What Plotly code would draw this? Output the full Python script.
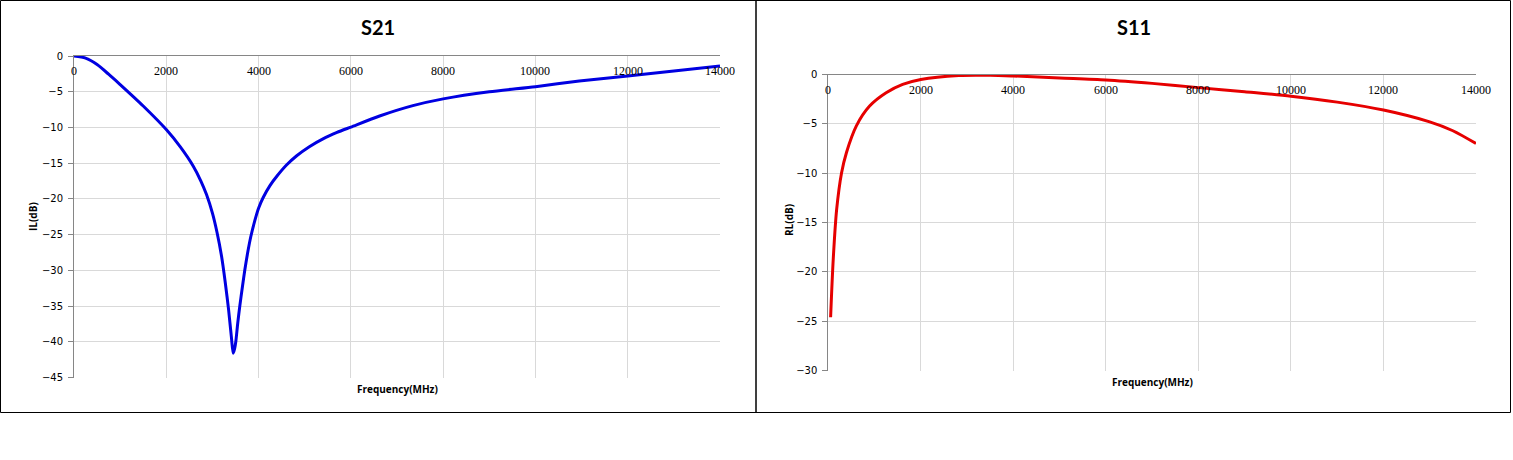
import plotly.graph_objects as go

W, H = 1513, 460

# ---- data ----
s21_freq = [0, 250, 500, 750, 1000, 1500, 2000, 2300, 2582, 2750, 2872, 3000, 3100, 3197,
            3280, 3350, 3413, 3450, 3480, 3506, 3550, 3593, 3650, 3701, 3770, 3831, 3920,
            4000, 4100, 4250, 4400, 4600, 4820, 5100, 5396, 5700, 6000, 6623, 7344,
            8000, 9000, 10000, 10950, 12000, 13000, 14000]
s21_il = [0, -0.3, -1.2, -2.55, -4.0, -7.0, -10.3, -12.7, -15.4, -17.5, -19.4, -22.0, -24.7,
          -28.0, -31.8, -35.5, -39.5, -41.6, -41.0, -40.0, -37.3, -35.0, -32.3, -30.0, -27.3,
          -25.3, -23.0, -21.3, -19.8, -18.1, -16.8, -15.3, -14.0, -12.7, -11.6, -10.7, -9.95,
          -8.4, -6.95, -6.0, -5.0, -4.3, -3.5, -2.8, -2.1, -1.4]

s11_freq = [50, 107, 180, 285, 393, 607, 893, 1250, 1607, 2000, 2821, 3500, 4000,
            5000, 6000, 7000, 8000, 9000, 10000, 11000, 12000, 13000, 13500, 14000]
s11_rl = [-24.6, -18.7, -13.7, -10.0, -7.9, -5.2, -3.2, -1.85, -1.0, -0.5, -0.1, -0.08,
          -0.15, -0.35, -0.55, -0.9, -1.33, -1.75, -2.2, -2.8, -3.6, -4.8, -5.7, -7.0]

x_ticks = [0, 2000, 4000, 6000, 8000, 10000, 12000, 14000]
x_tick_labels = ["0", "2000", "4000", "6000", "8000", "10000", "12000", "14000"]


def px(x):
    return x / W


def py(y):
    return 1 - y / H


fig = go.Figure()
fig.add_trace(go.Scatter(x=s21_freq, y=s21_il, mode="lines",
                         line=dict(color="rgb(0,0,225)", width=3, shape="spline", smoothing=0.7),
                         xaxis="x", yaxis="y", showlegend=False))
fig.add_trace(go.Scatter(x=s11_freq, y=s11_rl, mode="lines",
                         line=dict(color="rgb(230,0,0)", width=3, shape="spline", smoothing=0.8),
                         xaxis="x2", yaxis="y2", showlegend=False))

xcommon = dict(range=[0, 14000], tickvals=x_ticks, side="top", ticks="",
               showticklabels=False, automargin=False,
               showline=True, linecolor="#868686", linewidth=1,
               showgrid=True, gridcolor="#d9d9d9", gridwidth=1, zeroline=False,
               fixedrange=True)
ycommon = dict(dtick=5, ticks="outside", ticklen=5, tickcolor="#868686",
               automargin=False,
               showline=True, linecolor="#868686", linewidth=1,
               showgrid=True, gridcolor="#d9d9d9", gridwidth=1, zeroline=False,
               tickfont=dict(family="DejaVu Sans", size=10, color="#000"),
               ticklabelstandoff=3, fixedrange=True)

fig.update_layout(
    width=W, height=H, margin=dict(l=0, r=0, t=0, b=0, pad=0, autoexpand=False),
    paper_bgcolor="white", plot_bgcolor="white",
    xaxis=dict(domain=[px(74), px(720)], anchor="y", **xcommon),
    yaxis=dict(domain=[py(377.5), py(56)], anchor="x", range=[-45, 0], **ycommon),
    xaxis2=dict(domain=[px(828.3), px(1476)], anchor="y2", **xcommon),
    yaxis2=dict(domain=[py(370.5), py(74.5)], anchor="x2", range=[-30, 0], **ycommon),
)

# x tick labels sit just below the zero line, inside the plot
for xr, yr in [("x", "y"), ("x2", "y2")]:
    for v, t in zip(x_ticks, x_tick_labels):
        fig.add_annotation(xref=xr, yref=yr, x=v, y=0, text=t, showarrow=False,
                           xanchor="center", yanchor="middle", yshift=-15,
                           font=dict(family="Liberation Serif", size=12, color="#000"))

# borders of the two chart panels
for x0, x1 in [(0.5, 756), (756, 1510.5)]:
    fig.add_shape(type="rect", xref="paper", yref="paper",
                  x0=px(x0), x1=px(x1), y0=py(412.5), y1=py(0.5),
                  line=dict(color="black", width=1), fillcolor="rgba(0,0,0,0)")

title_font = dict(family="Lato", size=20, color="#000")
lab_font = dict(family="Open Sans", size=10, color="#000")
ann = [
    dict(text="<b>S21</b>", x=px(378), y=py(27), font=title_font),
    dict(text="<b>S11</b>", x=px(1134), y=py(27), font=title_font),
    dict(text="<b>IL(dB)</b>", x=px(33), y=py(217), font=lab_font, textangle=-90),
    dict(text="<b>RL(dB)</b>", x=px(789), y=py(220), font=lab_font, textangle=-90),
    dict(text="<b>Frequency(MHz)</b>", x=px(397), y=py(389), font=lab_font),
    dict(text="<b>Frequency(MHz)</b>", x=px(1152), y=py(382), font=lab_font),
]
for a in ann:
    fig.add_annotation(xref="paper", yref="paper", showarrow=False,
                       xanchor="center", yanchor="middle", **a)

fig.write_html("out.html", config={"displayModeBar": False},
               post_script="document.body.style.margin='0';document.body.style.overflow='hidden';")
